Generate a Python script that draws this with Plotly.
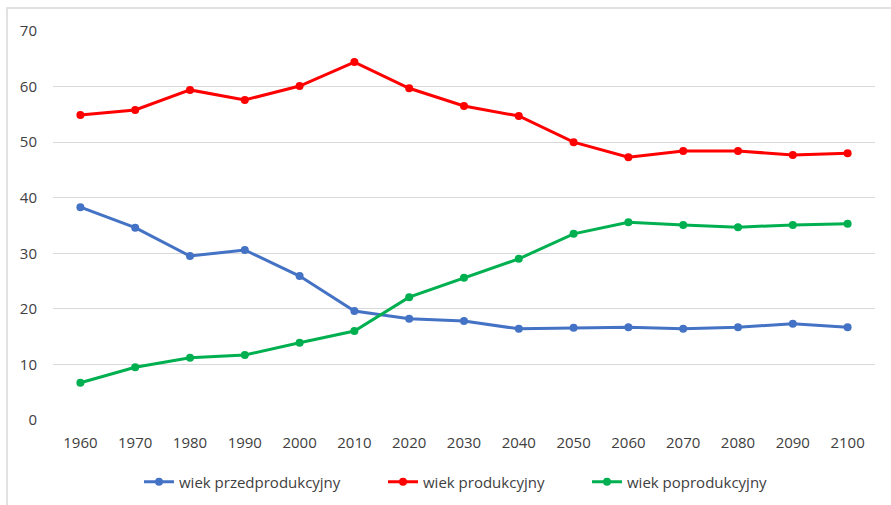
import plotly.graph_objects as go

years = ["1960", "1970", "1980", "1990", "2000", "2010", "2020", "2030",
         "2040", "2050", "2060", "2070", "2080", "2090", "2100"]
przedprodukcyjny = [38.3, 34.6, 29.5, 30.6, 25.9, 19.6, 18.2, 17.8,
                    16.4, 16.6, 16.7, 16.4, 16.7, 17.3, 16.7]
produkcyjny = [54.9, 55.8, 59.4, 57.6, 60.1, 64.4, 59.7, 56.5,
               54.7, 50.0, 47.3, 48.4, 48.4, 47.7, 48.0]
poprodukcyjny = [6.7, 9.5, 11.2, 11.7, 13.9, 16.0, 22.1, 25.6,
                 29.0, 33.5, 35.6, 35.1, 34.7, 35.1, 35.3]
y_ticks = [0, 10, 20, 30, 40, 50, 60, 70]

series = [
    ("wiek przedprodukcyjny", przedprodukcyjny, "#4472C4", "legend"),
    ("wiek produkcyjny", produkcyjny, "#FF0000", "legend2"),
    ("wiek poprodukcyjny", poprodukcyjny, "#00B050", "legend3"),
]

fig = go.Figure()
for name, vals, color, leg in series:
    fig.add_trace(go.Scatter(
        x=years, y=vals, name=name, mode="lines+markers",
        line=dict(color=color, width=3),
        marker=dict(color=color, size=8),
        legend=leg,
    ))

W, H = 891, 505
L, R, T, B = 53, 16, 31, 85
pw, ph = W - L - R, H - T - B

def px_x(x):
    return (x - L) / pw

def px_y(y):
    return (H - B - y) / ph

FONT = "Open Sans, Liberation Sans, Arial"
TXT = "#404040"
FS = 15

def legend_at(x_px):
    return dict(orientation="h", x=px_x(x_px), xanchor="left", y=px_y(482),
                yanchor="middle", bgcolor="rgba(0,0,0,0)",
                font=dict(family=FONT, size=FS, color=TXT))

fig.update_layout(
    width=W, height=H,
    margin=dict(l=L, r=R, t=T, b=B, autoexpand=False),
    paper_bgcolor="white", plot_bgcolor="white",
    font=dict(family=FONT, size=FS, color=TXT),
    showlegend=True,
    legend=legend_at(139),
    legend2=legend_at(383),
    legend3=legend_at(587),
    xaxis=dict(type="category", range=[-0.5, len(years) - 0.5],
               showgrid=False, showline=False, zeroline=False, automargin=False,
               ticks="outside", ticklen=9, tickcolor="rgba(0,0,0,0)",
               tickfont=dict(family=FONT, size=FS, color=TXT)),
    yaxis=dict(range=[0, 70], tickvals=y_ticks, showgrid=True, gridcolor="#D9D9D9",
               gridwidth=1, zeroline=False, showline=False, automargin=False,
               ticks="outside", ticklen=12, tickcolor="rgba(0,0,0,0)",
               tickfont=dict(family=FONT, size=FS, color=TXT)),
    shapes=[dict(type="rect", xref="paper", yref="paper",
                 x0=px_x(7), x1=px_x(900), y0=px_y(515), y1=px_y(8),
                 line=dict(color="#D9D9D9", width=1.5), fillcolor="rgba(0,0,0,0)",
                 layer="below")],
)

fig.write_html("out.html")
